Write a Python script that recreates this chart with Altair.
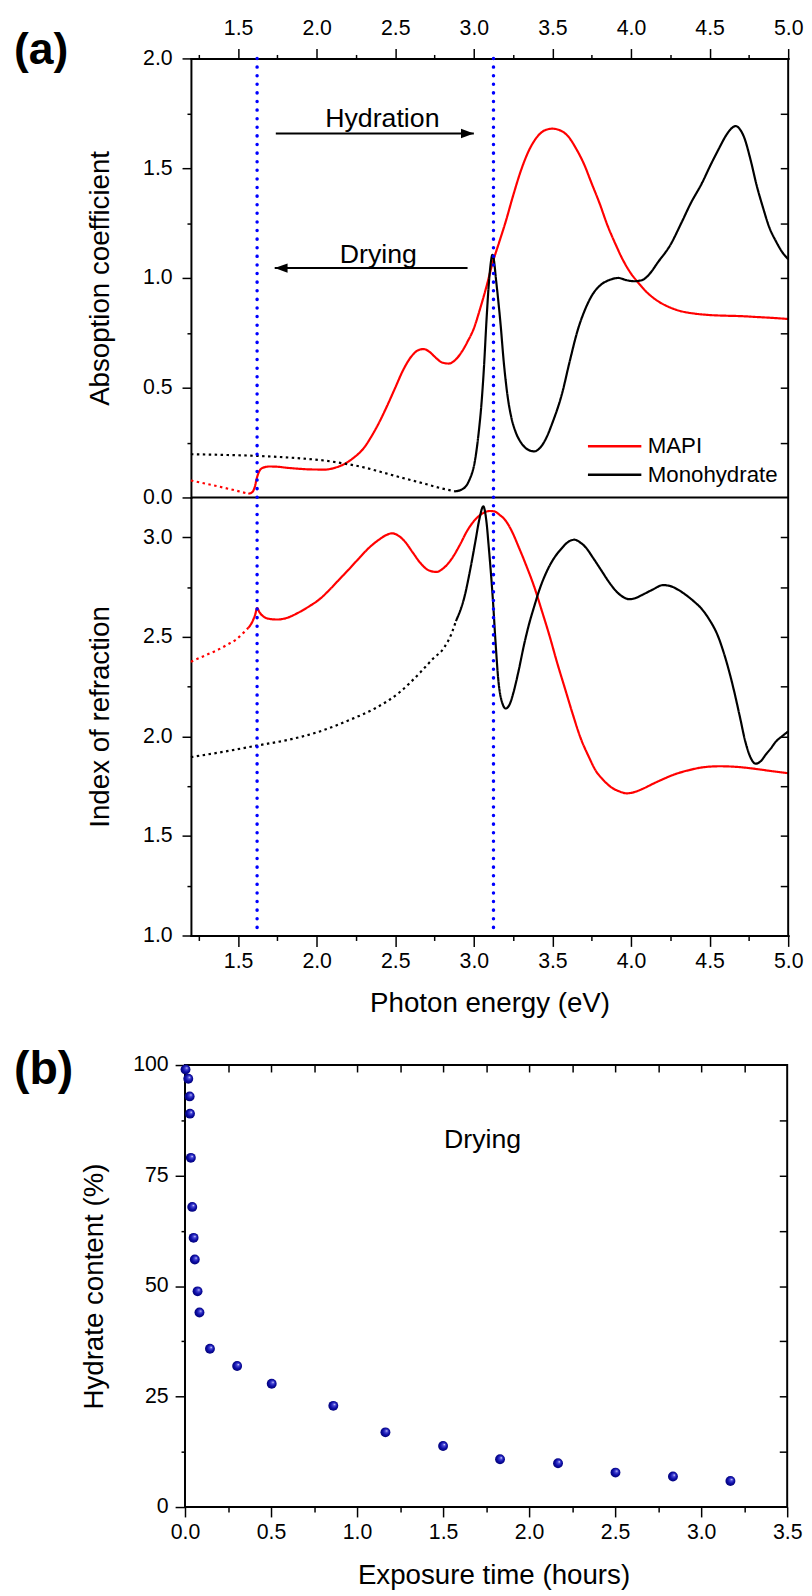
import altair as alt
import pandas as pd

FONT = "Liberation Sans"
TICK_FS = 21.5
TITLE_FS = 28
NOTE_FS = 27

# ---------------- Panel (a) upper: absorption coefficient ----------------
mapi_abs_dot_E = [1.2, 1.3, 1.4, 1.5, 1.565]
mapi_abs_dot_A = [0.077, 0.062, 0.046, 0.029, 0.017]
mapi_abs_E = [1.565, 1.59, 1.605, 1.62, 1.635, 1.66, 1.70, 1.75, 1.80, 1.88,
              1.95, 2.05, 2.12, 2.17, 2.23, 2.30, 2.35, 2.40, 2.45, 2.50,
              2.55, 2.60, 2.65, 2.68, 2.72, 2.76, 2.80, 2.84, 2.88, 2.92,
              2.96, 3.00, 3.04, 3.08, 3.12, 3.16, 3.20, 3.25, 3.30, 3.35,
              3.40, 3.45, 3.50, 3.55, 3.60, 3.65, 3.70, 3.75, 3.80, 3.85,
              3.90, 3.95, 4.00, 4.05, 4.10, 4.15, 4.20, 4.25, 4.30, 4.40,
              4.50, 4.60, 4.70, 4.80, 4.90, 5.00]
mapi_abs_A = [0.017, 0.024, 0.045, 0.09, 0.12, 0.136, 0.141, 0.14, 0.136, 0.131,
              0.128, 0.127, 0.136, 0.150, 0.178, 0.225, 0.28, 0.345, 0.42, 0.50,
              0.58, 0.64, 0.672, 0.676, 0.662, 0.635, 0.614, 0.61, 0.625, 0.66,
              0.71, 0.77, 0.86, 0.96, 1.07, 1.16, 1.25, 1.375, 1.49, 1.58,
              1.64, 1.672, 1.68, 1.672, 1.645, 1.59, 1.52, 1.43, 1.34, 1.24,
              1.156, 1.08, 1.02, 0.975, 0.935, 0.905, 0.882, 0.865, 0.852, 0.838,
              0.831, 0.828, 0.826, 0.822, 0.818, 0.813]
hyd_abs_dot_E = [1.2, 1.4, 1.63, 1.88, 2.05, 2.17, 2.3, 2.4, 2.5, 2.61, 2.7, 2.78, 2.88]
hyd_abs_dot_A = [0.197, 0.194, 0.189, 0.179, 0.168, 0.155, 0.137, 0.118, 0.098, 0.077, 0.06, 0.044, 0.028]
hyd_abs_E = [2.88, 2.92, 2.97, 3.01, 3.03, 3.05, 3.065, 3.08, 3.095, 3.108,
             3.118, 3.128, 3.14, 3.155, 3.17, 3.19, 3.215, 3.24, 3.265, 3.30,
             3.33, 3.36, 3.385, 3.42, 3.46, 3.50, 3.56, 3.61, 3.66, 3.71,
             3.76, 3.81, 3.86, 3.92, 3.97, 4.02, 4.07, 4.12, 4.17, 4.25,
             4.32, 4.38, 4.45, 4.51, 4.56, 4.61, 4.645, 4.665, 4.69, 4.72,
             4.76, 4.80, 4.84, 4.88, 4.92, 4.96, 5.00]
hyd_abs_A = [0.028, 0.035, 0.077, 0.18, 0.29, 0.44, 0.60, 0.80, 0.97, 1.07,
             1.105, 1.08, 1.0, 0.90, 0.79, 0.62, 0.46, 0.36, 0.30, 0.25,
             0.225, 0.213, 0.21, 0.225, 0.27, 0.34, 0.47, 0.62, 0.76, 0.86,
             0.93, 0.97, 0.99, 1.0, 0.99, 0.985, 0.99, 1.02, 1.07, 1.15,
             1.25, 1.34, 1.43, 1.52, 1.59, 1.655, 1.685, 1.692, 1.68, 1.64,
             1.54, 1.42, 1.32, 1.23, 1.17, 1.12, 1.085]

# ---------------- Panel (a) lower: index of refraction ----------------
mapi_n_dot_E = [1.2, 1.3, 1.36, 1.43, 1.49, 1.54, 1.565]
mapi_n_dot_N = [2.375, 2.41, 2.43, 2.46, 2.488, 2.525, 2.545]
mapi_n_E = [1.565, 1.59, 1.61, 1.621, 1.635, 1.66, 1.70, 1.75, 1.81, 1.88,
            1.95, 2.02, 2.08, 2.14, 2.20, 2.27, 2.33, 2.40, 2.44, 2.48,
            2.52, 2.565, 2.61, 2.663, 2.71, 2.76, 2.81, 2.86, 2.91, 2.958,
            3.01, 3.056, 3.10, 3.13, 3.165, 3.203, 3.245, 3.286, 3.335, 3.384,
            3.433, 3.482, 3.53, 3.58, 3.63, 3.679, 3.73, 3.777, 3.825, 3.875,
            3.925, 3.974, 4.02, 4.072, 4.14, 4.203, 4.28, 4.367, 4.46, 4.563,
            4.65, 4.727, 4.81, 4.891, 5.0]
mapi_n_N = [2.545, 2.575, 2.615, 2.645, 2.625, 2.603, 2.59, 2.587, 2.595, 2.62,
            2.652, 2.69, 2.735, 2.785, 2.835, 2.895, 2.945, 2.99, 3.01, 3.02,
            3.008, 2.975, 2.925, 2.868, 2.835, 2.826, 2.847, 2.893, 2.96, 3.033,
            3.09, 3.12, 3.132, 3.13, 3.112, 3.083, 3.025, 2.95, 2.855, 2.752,
            2.63, 2.504, 2.37, 2.24, 2.11, 1.992, 1.90, 1.826, 1.78, 1.744,
            1.724, 1.714, 1.72, 1.736, 1.762, 1.785, 1.81, 1.83, 1.845, 1.85,
            1.848, 1.843, 1.835, 1.826, 1.815]
hyd_n_dot_E = [1.2, 1.43, 1.62, 1.82, 2.02, 2.21, 2.37, 2.53, 2.66, 2.74, 2.81, 2.86, 2.886]
hyd_n_dot_N = [1.896, 1.926, 1.954, 1.983, 2.025, 2.083, 2.14, 2.223, 2.322, 2.39, 2.445, 2.52, 2.579]
hyd_n_E = [2.886, 2.94, 2.98, 3.01, 3.035, 3.06, 3.08, 3.095, 3.12, 3.14,
           3.155, 3.18, 3.203, 3.23, 3.253, 3.285, 3.318, 3.35, 3.385, 3.417,
           3.465, 3.515, 3.56, 3.597, 3.64, 3.675, 3.711, 3.76, 3.81, 3.86,
           3.908, 3.95, 3.99, 4.03, 4.072, 4.14, 4.203, 4.25, 4.301, 4.35,
           4.40, 4.45, 4.498, 4.55, 4.596, 4.63, 4.662, 4.695, 4.727, 4.76,
           4.792, 4.825, 4.858, 4.89, 4.923, 4.96, 5.0]
hyd_n_N = [2.579, 2.70, 2.85, 2.98, 3.09, 3.155, 3.08, 2.95, 2.70, 2.45,
           2.29, 2.17, 2.14, 2.165, 2.223, 2.33, 2.455, 2.56, 2.655, 2.736,
           2.83, 2.901, 2.945, 2.975, 2.988, 2.975, 2.95, 2.895, 2.835, 2.775,
           2.727, 2.70, 2.689, 2.695, 2.711, 2.738, 2.76, 2.755, 2.736, 2.71,
           2.678, 2.64, 2.587, 2.51, 2.405, 2.31, 2.207, 2.09, 1.975, 1.895,
           1.863, 1.875, 1.909, 1.94, 1.975, 2.0, 2.025]

# band-edge markers (blue dotted lines) and annotations
band_E = [1.621, 3.125]
arrow_label = ["Hydration", "Drying"]
arrow_tail = [1.74, 2.96]
arrow_tip = [3.0, 1.733]
arrow_level = [1.658, 1.045]
arrow_angle = [0, 180]
label_E = [2.418, 2.392]
label_level = [1.686, 1.068]

# ---------------- Panel (b): hydrate content vs exposure time ----------------
time_h = [0.003, 0.019, 0.027, 0.029, 0.034, 0.042, 0.05, 0.057, 0.073, 0.084,
          0.145, 0.303, 0.504, 0.862, 1.165, 1.5, 1.831, 2.168, 2.502, 2.836, 3.17]
hydrate_pct = [99.0, 96.9, 92.9, 89.0, 79.0, 67.9, 60.9, 56.0, 48.8, 44.0,
               35.8, 31.9, 27.9, 22.9, 16.9, 13.8, 10.8, 9.9, 7.8, 6.9, 5.9]
drying_note = {"t": [1.73], "h": [81.2], "label": ["Drying"]}

# axis tick positions
E_ticks = [1.25, 1.5, 1.75, 2.0, 2.25, 2.5, 2.75, 3.0, 3.25, 3.5, 3.75, 4.0, 4.25, 4.5, 4.75, 5.0]
A_ticks = [0.0, 0.25, 0.5, 0.75, 1.0, 1.25, 1.5, 1.75, 2.0]
A_inner = [0.25, 0.5, 0.75, 1.0, 1.25, 1.5, 1.75]
N_ticks = [1.0, 1.25, 1.5, 1.75, 2.0, 2.25, 2.5, 2.75, 3.0]
N_inner = [1.25, 1.5, 1.75, 2.0, 2.25, 2.5, 2.75, 3.0]
t_ticks = [0.0, 0.25, 0.5, 0.75, 1.0, 1.25, 1.5, 1.75, 2.0, 2.25, 2.5, 2.75, 3.0, 3.25, 3.5]
t_inner = [0.25, 0.5, 0.75, 1.0, 1.25, 1.5, 1.75, 2.0, 2.25, 2.5, 2.75, 3.0, 3.25]
h_ticks = [0, 12.5, 25, 37.5, 50, 62.5, 75, 87.5, 100]
h_inner = [12.5, 25, 37.5, 50, 62.5, 75, 87.5]

# ---------------- layout constants ----------------
A_W, A_X0 = 610, 6
A_H, A_MID = 887, 444
B_W, B_H = 609, 447


def seg(E, V, series, style):
    return pd.DataFrame({"E": E, "V": V, "series": series, "style": style})


abs_df = pd.concat([
    seg(mapi_abs_dot_E, mapi_abs_dot_A, "MAPI", "dotted"),
    seg(mapi_abs_E, mapi_abs_A, "MAPI", "solid"),
    seg(hyd_abs_dot_E, hyd_abs_dot_A, "Monohydrate", "dotted"),
    seg(hyd_abs_E, hyd_abs_A, "Monohydrate", "solid"),
], ignore_index=True)
ref_df = pd.concat([
    seg(mapi_n_dot_E, mapi_n_dot_N, "MAPI", "dotted"),
    seg(mapi_n_E, mapi_n_N, "MAPI", "solid"),
    seg(hyd_n_dot_E, hyd_n_dot_N, "Monohydrate", "dotted"),
    seg(hyd_n_E, hyd_n_N, "Monohydrate", "solid"),
], ignore_index=True)
arrow_df = pd.DataFrame({"label": arrow_label, "x1": arrow_tail, "x2": arrow_tip,
                         "y": arrow_level, "ang": arrow_angle,
                         "lx": label_E, "ly": label_level})
E_lo, E_hi = 1.2, 5.0
zero_df = pd.DataFrame({"x1": [E_lo], "x2": [E_hi], "V": [0.0]})
top_df = pd.DataFrame({"V": [3.2]})
edge_df = pd.DataFrame({"E": [E_hi]})
band_df = pd.DataFrame({"E": band_E})
b_df = pd.DataFrame({"t": time_h, "h": hydrate_pct})
note_b_df = pd.DataFrame(drying_note)

xA = alt.Scale(domain=[E_lo, E_hi], range=[A_X0, A_W], nice=False, zero=False)
yA = alt.Scale(domain=[0, 2], range=[A_MID, 0], nice=False, zero=False)
yN = alt.Scale(domain=[1.0, 3.2], range=[A_H, A_MID], nice=False, zero=False)
xB = alt.Scale(domain=[0, 3.5], nice=False, zero=False)
yB = alt.Scale(domain=[0, 100], nice=False, zero=False)
cscale = alt.Scale(domain=["MAPI", "Monohydrate"], range=["#ff0000", "#000000"])
dscale = alt.Scale(domain=["solid", "dotted"], range=[[1, 0], [2.5, 3.5]])


def is_major(step):
    return f"abs(datum.value / {step} - round(datum.value / {step})) < 0.001"


def outer_axis(orient, values, step, fmt, big, small, pad, **extra):
    test = is_major(step)
    kw = dict(orient=orient, values=values,
              labelExpr=f"{test} ? format(datum.value, '{fmt}') : ''",
              tickSize={"condition": {"test": test, "value": big}, "value": small},
              tickColor="black", tickWidth=1.5, grid=False,
              labelFont=FONT, labelFontSize=TICK_FS, labelColor="black",
              labelPadding=pad, labelOverlap=False, labelFlush=False,
              titleFont=FONT, titleFontSize=TITLE_FS, titleFontWeight="normal",
              titleColor="black")
    kw.update(extra)
    return alt.Axis(**kw)


def inner_axis(orient, values, size):
    return alt.Axis(orient=orient, values=values, labels=False, domain=False,
                    grid=False, tickSize=size, tickColor="black", tickWidth=1.5,
                    offset=-size, title=None)


frame = dict(domain=True, domainColor="black", domainWidth=2, domainCap="square")

legend = alt.Legend(orient="none", legendX=406, legendY=381, title=None,
                    symbolType="stroke", symbolSize=2916, symbolStrokeWidth=2.5,
                    clipHeight=22.5, rowPadding=5.8, padding=0,
                    labelFont=FONT, labelFontSize=22.5, labelColor="black",
                    labelOffset=5)

l_abs = alt.Chart(abs_df).mark_line(strokeWidth=2.2, interpolate="monotone").encode(
    x=alt.X("E:Q", scale=xA,
            axis=outer_axis("top", E_ticks, 0.5, ".1f", 10, 4, 9, title=None, **frame)),
    y=alt.Y("V:Q", scale=yA,
            axis=outer_axis("left", A_ticks, 0.5, ".1f", 9, 4, 10, offset=-A_X0,
                            title="Absoption coefficient", titleX=-83,
                            titleBaseline="alphabetic", **frame)),
    color=alt.Color("series:N", scale=cscale, legend=legend),
    strokeDash=alt.StrokeDash("style:N", scale=dscale, legend=None),
)

l_zero = alt.Chart(zero_df).mark_rule(color="black", strokeWidth=2).encode(
    x=alt.X("x1:Q", scale=xA, axis=None), x2="x2:Q",
    y=alt.Y("V:Q", scale=yA, axis=inner_axis("right", A_inner, 8)),
)

l_ref = alt.Chart(ref_df).mark_line(strokeWidth=2.2, interpolate="monotone").encode(
    x=alt.X("E:Q", scale=xA,
            axis=outer_axis("bottom", E_ticks, 0.5, ".1f", 11, 5, 4,
                            title="Photon energy (eV)", titleY=77,
                            titleBaseline="alphabetic", **frame)),
    y=alt.Y("V:Q", scale=yN,
            axis=outer_axis("left", N_ticks, 0.5, ".1f", 9, 4, 10, offset=-A_X0,
                            title="Index of refraction", titleX=-83,
                            titleBaseline="alphabetic", **frame)),
    color=alt.Color("series:N", scale=cscale, legend=None),
    strokeDash=alt.StrokeDash("style:N", scale=dscale, legend=None),
)

l_nright = alt.Chart(top_df).mark_rule(opacity=0).encode(
    y=alt.Y("V:Q", scale=yN, axis=inner_axis("right", N_inner, 8)),
)

l_edge = alt.Chart(edge_df).mark_rule(color="black", strokeWidth=2).encode(
    x=alt.X("E:Q", scale=xA, axis=None),
)

l_band = alt.Chart(band_df).mark_rule(color="#0000ff", strokeWidth=3.5,
                                      strokeDash=[0.1, 8.6], strokeCap="round").encode(
    x=alt.X("E:Q", scale=xA, axis=None),
)

l_shaft = alt.Chart(arrow_df).mark_rule(color="black", strokeWidth=2).encode(
    x=alt.X("x1:Q", scale=xA, axis=None), x2="x2:Q",
    y=alt.Y("y:Q", scale=yA, axis=None),
)

l_head = alt.Chart(arrow_df).mark_point(shape="M0,0L-1,-0.36L-1,0.36Z", filled=True,
                                        color="black", opacity=1, size=676,
                                        strokeWidth=0).encode(
    x=alt.X("x2:Q", scale=xA, axis=None),
    y=alt.Y("y:Q", scale=yA, axis=None),
    angle=alt.Angle("ang:Q", scale=None),
)

l_notes = alt.Chart(arrow_df).mark_text(font=FONT, fontSize=NOTE_FS, color="black",
                                        align="center", baseline="alphabetic").encode(
    x=alt.X("lx:Q", scale=xA, axis=None),
    y=alt.Y("ly:Q", scale=yA, axis=None),
    text="label:N",
)

panel_a = alt.layer(l_abs, l_zero, l_ref, l_nright, l_edge, l_shaft, l_head,
                    l_notes, l_band).resolve_scale(
    x="independent", y="independent"
).properties(
    width=A_W, height=A_H,
    view=alt.ViewBackground(stroke="transparent"),
    title=alt.TitleParams(text="(a)", anchor="start", frame="group", orient="top",
                          dx=-173, dy=92, offset=0, font=FONT, fontSize=45,
                          fontWeight="bold", color="black", baseline="alphabetic"),
)

SPHERE = {"gradient": "radial", "x1": 0.64, "y1": 0.33, "r1": 0.0,
          "x2": 0.5, "y2": 0.5, "r2": 0.56,
          "stops": [{"offset": 0.0, "color": "#f2f2ff"},
                    {"offset": 0.22, "color": "#4a4ad8"},
                    {"offset": 0.6, "color": "#0c0ca6"},
                    {"offset": 1.0, "color": "#00006a"}]}

l_pts = alt.Chart(b_df).mark_circle(size=100, opacity=1, color=SPHERE).encode(
    x=alt.X("t:Q", scale=xB,
            axis=outer_axis("bottom", t_ticks, 0.5, ".1f", 10, 5, 5, domain=False,
                            title="Exposure time (hours)", titleY=77, titleX=312,
                            titleBaseline="alphabetic")),
    y=alt.Y("h:Q", scale=yB,
            axis=outer_axis("left", h_ticks, 25, "d", 10, 4, 7, domain=False,
                            title="Hydrate content (%)", titleX=-83,
                            titleBaseline="alphabetic")),
)

l_note_b = alt.Chart(note_b_df).mark_text(font=FONT, fontSize=NOTE_FS, color="black",
                                          align="center", baseline="alphabetic").encode(
    x=alt.X("t:Q", scale=xB, axis=inner_axis("top", t_inner, 7)),
    y=alt.Y("h:Q", scale=yB, axis=inner_axis("right", h_inner, 8)),
    text="label:N",
)

panel_b = alt.layer(l_pts, l_note_b).resolve_scale(
    x="independent", y="independent"
).properties(
    width=B_W, height=B_H,
    title=alt.TitleParams(text="(b)", anchor="start", frame="group", orient="top",
                          dx=-173, dy=77.6, offset=0, font=FONT, fontSize=47,
                          fontWeight="bold", color="black", baseline="alphabetic"),
)

chart = alt.concat(panel_a, panel_b, columns=1, spacing=27).properties(
    padding={"left": 5, "top": 0, "right": 0, "bottom": 0}
).configure(font=FONT).configure_view(stroke="black", strokeWidth=2)

chart.save("out.html", embed_options={"renderer": "svg", "actions": False})
